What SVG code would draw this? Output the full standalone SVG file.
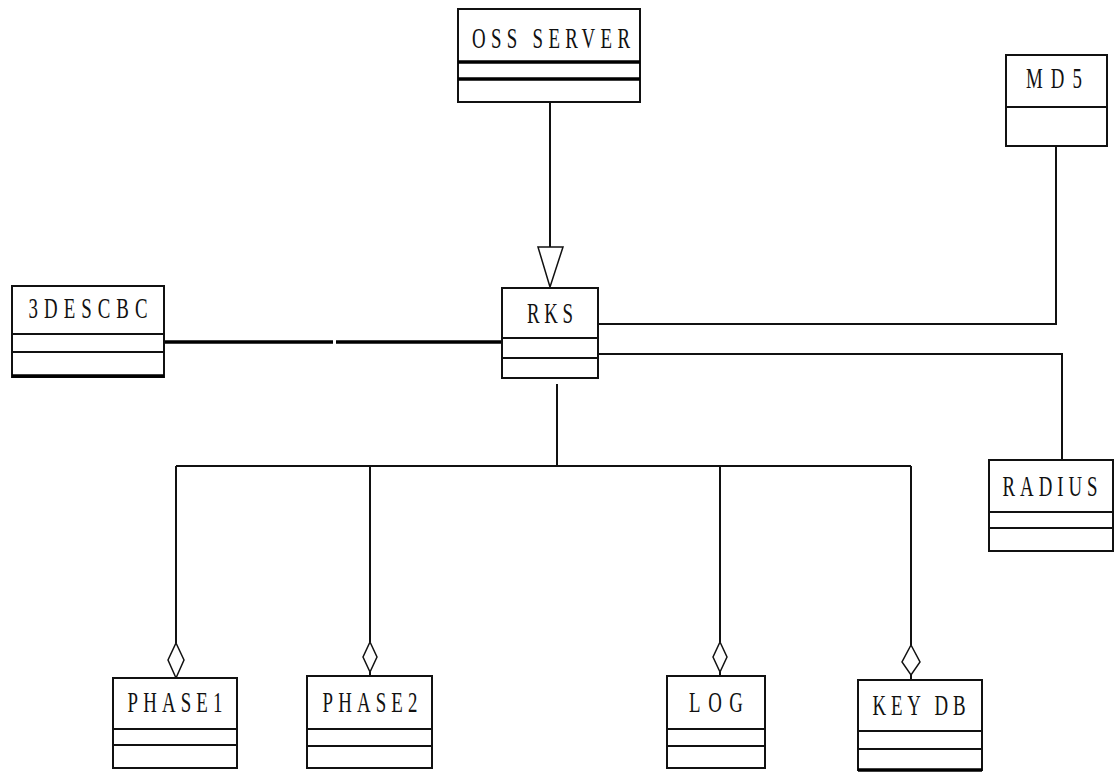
<svg xmlns="http://www.w3.org/2000/svg" width="1117" height="773" viewBox="0 0 1117 773">
<style>
.box{fill:#fff;stroke:#111;stroke-width:2}
.div{stroke:#111;stroke-width:2}
.thick{stroke:#000;stroke-width:3.5}
.lbl{font-family:"Liberation Serif","DejaVu Serif",serif;font-size:29px;fill:#111;text-anchor:middle}
.con{fill:none;stroke:#111;stroke-width:2}
.bold{fill:none;stroke:#000;stroke-width:3.5}
.dia{fill:#fff;stroke:#111;stroke-width:1.5}
</style>
<rect width="1117" height="773" fill="#fff"/>
<g id="connectors">
<polyline class="con" points="550,102 550,247"/>
<polygon points="538,247 563,247 550,287" fill="#fff" stroke="#111" stroke-width="1.5"/>
<polyline class="con" points="1056,146 1056,324 598,324"/>
<polyline class="con" points="598,354 1062,354 1062,460"/>
<line class="bold" x1="164" y1="342" x2="333" y2="342"/>
<line class="bold" x1="336" y1="342" x2="502" y2="342"/>
<polyline class="con" points="557,384 557,466"/>
<polyline class="con" points="176,466 911,466"/>
<line class="con" x1="176" y1="466" x2="176" y2="643"/>
<line class="con" x1="370" y1="466" x2="370" y2="642"/>
<line class="con" x1="720" y1="466" x2="720" y2="642"/>
<line class="con" x1="911" y1="466" x2="911" y2="645"/>
<polygon class="dia" points="176,643 184,660 176,678 168,660"/>
<polygon class="dia" points="370,642 377,657 370,672 363,657"/>
<line class="con" x1="370" y1="672" x2="370" y2="676"/>
<polygon class="dia" points="720,642 727,657 720,672 713,657"/>
<line class="con" x1="720" y1="672" x2="720" y2="676"/>
<polygon class="dia" points="911,645 920,662 911,675 902,662"/>
<line class="con" x1="911" y1="675" x2="911" y2="680"/>
</g>
<g id="oss-server">
<rect class="box" x="458" y="9" width="182" height="93"/>
<line class="thick" x1="458" y1="62" x2="640" y2="62"/>
<line class="thick" x1="458" y1="79" x2="640" y2="79"/>
<text class="lbl" transform="translate(551,48) scale(0.65,1)" textLength="243" lengthAdjust="spacing">OSS SERVER</text>
</g>
<g id="md5">
<rect class="box" x="1006" y="55" width="101" height="91"/>
<line class="div" x1="1006" y1="107" x2="1107" y2="107"/>
<text class="lbl" transform="translate(1054,88) scale(0.65,1)" textLength="86" lengthAdjust="spacing">MD5</text>
</g>
<g id="tdescbc">
<rect class="box" x="12" y="286" width="152" height="91"/>
<line class="div" x1="12" y1="334" x2="164" y2="334"/>
<line class="div" x1="12" y1="352" x2="164" y2="352"/>
<line class="thick" x1="12" y1="376" x2="164" y2="376"/>
<text class="lbl" transform="translate(88,318) scale(0.65,1)" textLength="183" lengthAdjust="spacing">3DESCBC</text>
</g>
<g id="rks">
<rect class="box" x="502" y="288" width="96" height="90"/>
<line class="div" x1="502" y1="338" x2="598" y2="338"/>
<line class="div" x1="502" y1="358" x2="598" y2="358"/>
<text class="lbl" transform="translate(550,323) scale(0.65,1)" textLength="71" lengthAdjust="spacing">RKS</text>
</g>
<g id="radius">
<rect class="box" x="989" y="460" width="124" height="91"/>
<line class="div" x1="989" y1="512" x2="1113" y2="512"/>
<line class="div" x1="989" y1="528" x2="1113" y2="528"/>
<text class="lbl" transform="translate(1050,496) scale(0.65,1)" textLength="146" lengthAdjust="spacing">RADIUS</text>
</g>
<g id="phase1">
<rect class="box" x="113" y="678" width="124" height="90"/>
<line class="div" x1="113" y1="729" x2="237" y2="729"/>
<line class="div" x1="113" y1="745" x2="237" y2="745"/>
<text class="lbl" transform="translate(175,712) scale(0.65,1)" textLength="146" lengthAdjust="spacing">PHASE1</text>
</g>
<g id="phase2">
<rect class="box" x="307" y="676" width="125" height="92"/>
<line class="div" x1="307" y1="729" x2="432" y2="729"/>
<line class="div" x1="307" y1="746" x2="432" y2="746"/>
<text class="lbl" transform="translate(370,712) scale(0.65,1)" textLength="146" lengthAdjust="spacing">PHASE2</text>
</g>
<g id="log">
<rect class="box" x="667" y="676" width="98" height="92"/>
<line class="div" x1="667" y1="729" x2="765" y2="729"/>
<line class="div" x1="667" y1="746" x2="765" y2="746"/>
<text class="lbl" transform="translate(716,712) scale(0.65,1)" textLength="83" lengthAdjust="spacing">LOG</text>
</g>
<g id="key-db">
<rect class="box" x="858" y="680" width="124" height="90"/>
<line class="div" x1="858" y1="731" x2="982" y2="731"/>
<line class="div" x1="858" y1="749" x2="982" y2="749"/>
<line class="thick" x1="858" y1="770" x2="982" y2="770"/>
<text class="lbl" transform="translate(919,715) scale(0.65,1)" textLength="143" lengthAdjust="spacing">KEY DB</text>
</g>
</svg>
